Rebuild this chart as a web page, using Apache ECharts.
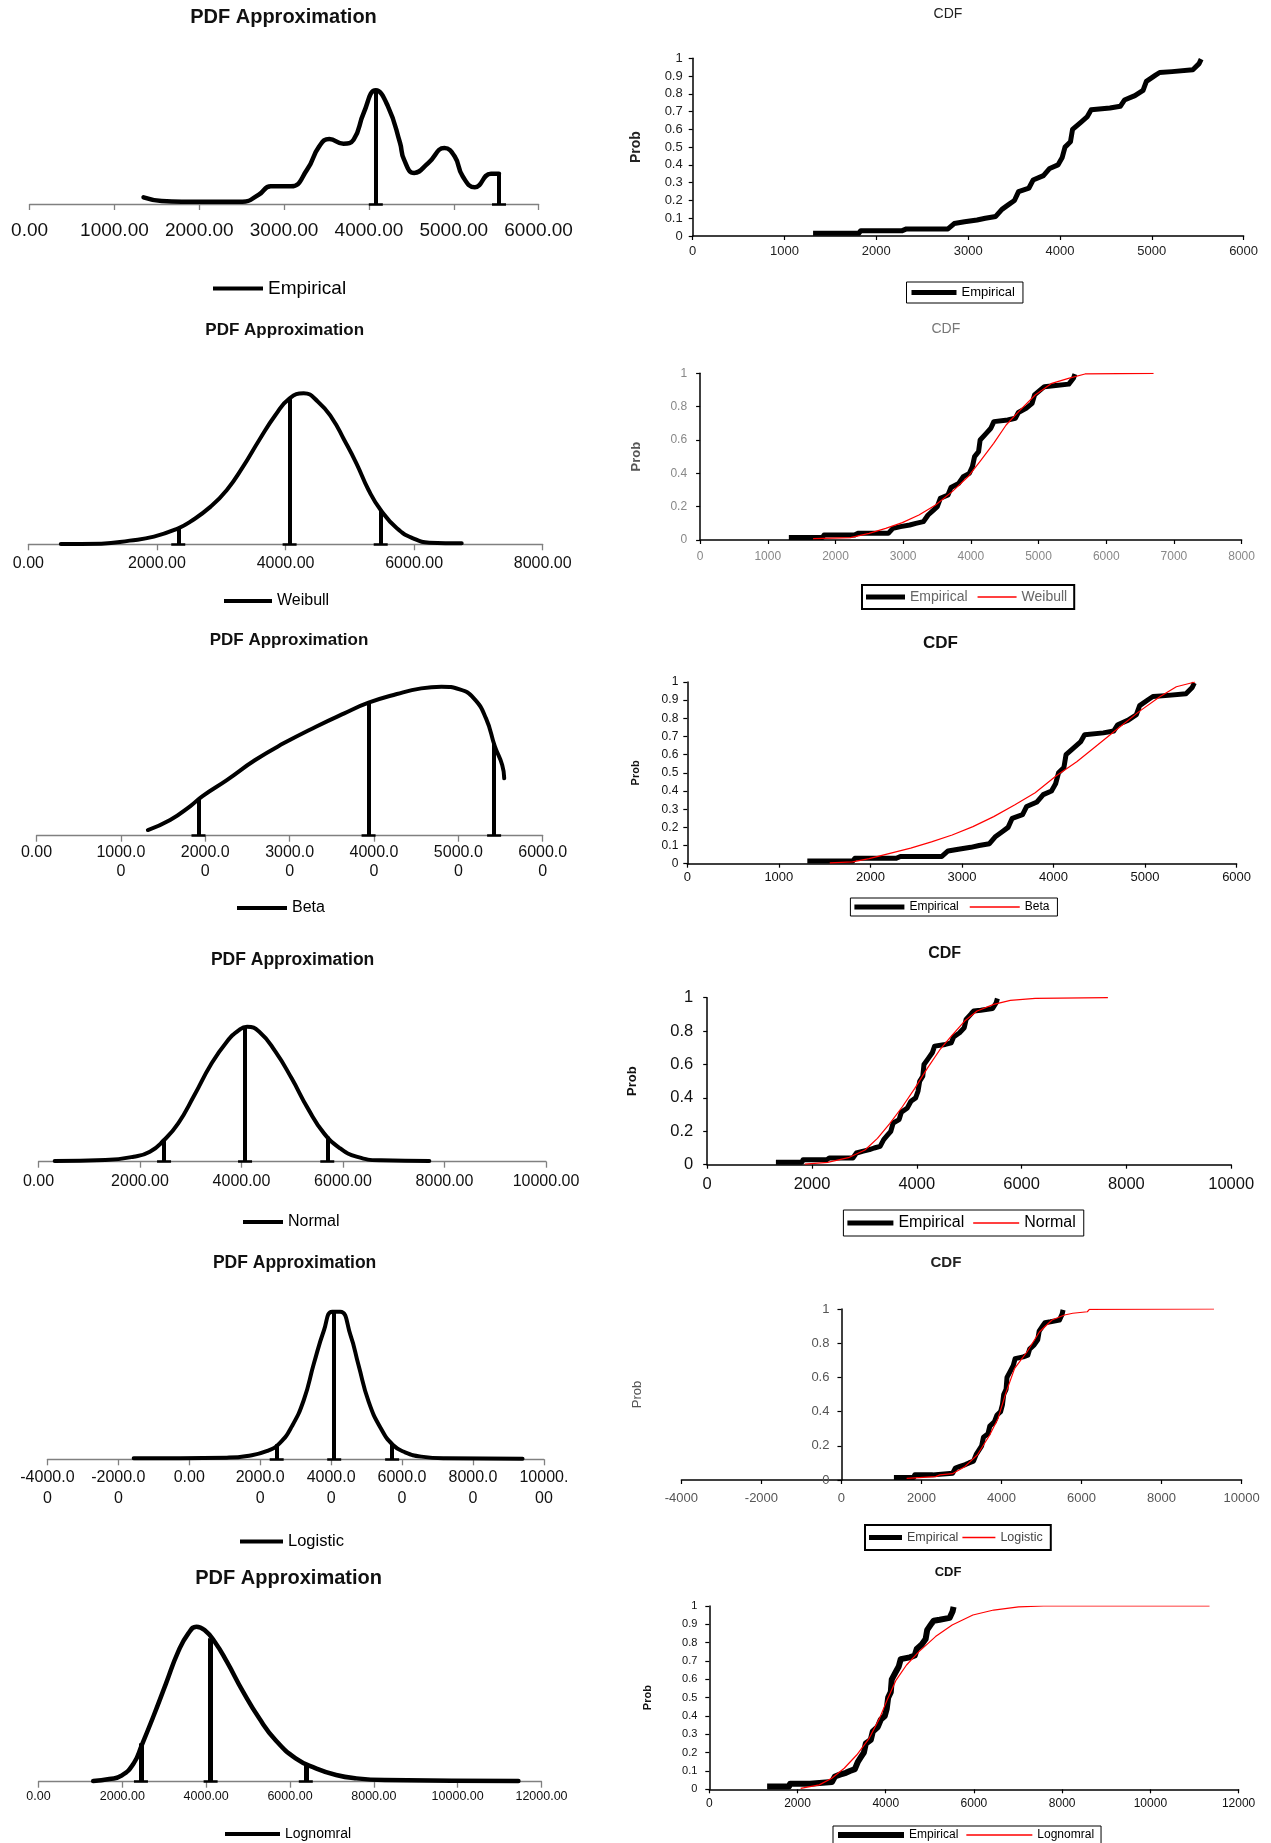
<!DOCTYPE html>
<html><head><meta charset="utf-8">
<script src="https://cdn.jsdelivr.net/npm/echarts@6/dist/echarts.min.js"></script>
<style>html,body{margin:0;padding:0;background:#fff}#c{width:1271px;height:1843px}</style>
</head><body><div id="c"></div>
<script>
const FONT = '"Liberation Sans", Arial, sans-serif';

// ---------- DATA (x value, relative density / probability) ----------
const empiricalPdf = [[1343,0.20],[1557,0.09],[1795,0.07],[2510,0.07],[2700,0.28],[2843,0.53],[3081,0.53],[3271,1.03],[3414,1.73],[3533,1.95],[3700,1.81],[3819,1.93],[3938,2.73],[4081,3.41],[4224,2.93],[4367,1.83],[4414,1.33],[4533,0.93],[4700,1.23],[4890,1.68],[5010,1.43],[5105,0.83],[5248,0.50],[5438,0.91],[5533,0.91]];
const empiricalPdfMarks = [[4081,3.41],[5533,0.91]];

const weibullPdf = [[504,0.01],[1134,0.02],[1575,0.11],[1953,0.23],[2331,0.48],[2520,0.68],[2835,1.13],[3087,1.63],[3339,2.33],[3591,3.13],[3843,3.88],[4063,4.38],[4283,4.53],[4504,4.28],[4724,3.78],[4913,3.13],[5102,2.43],[5291,1.63],[5480,1.03],[5732,0.48],[5984,0.18],[6236,0.05],[6740,0.03]];
const weibullPdfMarks = [[2331,0.50],[4063,4.38],[5480,1.03]];

const betaPdf = [[1320,0.17],[1584,0.47],[1824,0.89],[1968,1.19],[2256,1.67],[2592,2.27],[2928,2.77],[3312,3.27],[3648,3.67],[3936,3.99],[4272,4.25],[4560,4.42],[4800,4.47],[5016,4.39],[5184,4.12],[5328,3.52],[5434,2.67],[5520,2.12],[5544,1.72]];
const betaPdfMarks = [[1920,1.12],[3936,3.99],[5424,2.75]];

const normalPdf = [[319,0.02],[1317,0.05],[1875,0.15],[2195,0.30],[2474,0.65],[2753,1.15],[3073,2.00],[3392,2.90],[3711,3.60],[3950,3.95],[4110,4.05],[4350,3.90],[4669,3.30],[4988,2.50],[5307,1.60],[5626,0.85],[5946,0.40],[6265,0.15],[6744,0.04],[7701,0.02]];
const normalPdfMarks = [[2474,0.65],[4070,4.05],[5690,0.75]];

const logisticPdf = [[-1567,0.03],[1060,0.05],[1631,0.10],[2202,0.25],[2545,0.48],[2888,0.98],[3230,1.78],[3516,2.88],[3801,3.88],[4030,4.43],[4258,4.43],[4544,3.73],[4772,2.83],[5058,1.73],[5401,0.93],[5743,0.43],[6086,0.21],[6543,0.08],[7228,0.03],[9398,0.02]];
const logisticPdfMarks = [[2465,0.45],[4087,4.45],[5720,0.45]];

const lognormalPdf = [[1304,0.02],[1691,0.08],[1981,0.18],[2271,0.55],[2464,1.10],[2754,2.00],[3043,2.95],[3333,3.90],[3575,4.45],[3768,4.65],[3961,4.55],[4203,4.20],[4493,3.60],[4879,2.70],[5266,1.90],[5652,1.25],[6135,0.70],[6618,0.40],[7101,0.20],[7585,0.10],[8261,0.05],[11449,0.02]];
const lognormalPdfMarks = [[2444,1.15],[4106,4.30],[6377,0.55]];

const empiricalCdf = [[1311,0.015],[1808,0.015],[1831,0.03],[2283,0.03],[2328,0.04],[2780,0.04],[2848,0.07],[2961,0.08],[3097,0.09],[3187,0.10],[3300,0.11],[3368,0.15],[3436,0.175],[3504,0.20],[3549,0.25],[3662,0.27],[3707,0.315],[3820,0.34],[3888,0.38],[3978,0.40],[4023,0.44],[4055,0.50],[4114,0.53],[4137,0.60],[4227,0.64],[4295,0.67],[4340,0.71],[4544,0.72],[4657,0.73],[4702,0.765],[4816,0.79],[4905,0.82],[4941,0.87],[5041,0.905],[5086,0.92],[5221,0.925],[5447,0.935],[5515,0.97],[5538,0.995]];

const weibullCdf = [[1669,0.008],[2221,0.014],[2497,0.04],[2742,0.07],[2988,0.104],[3233,0.15],[3479,0.21],[3724,0.29],[3969,0.384],[4153,0.48],[4337,0.58],[4521,0.69],[4706,0.77],[4951,0.87],[5196,0.94],[5442,0.97],[5687,0.996],[6699,1.0]];
const betaCdf = [[1556,0.004],[1805,0.01],[1986,0.028],[2213,0.057],[2440,0.086],[2667,0.12],[2893,0.158],[3120,0.204],[3347,0.259],[3574,0.323],[3800,0.39],[4027,0.483],[4254,0.561],[4481,0.653],[4707,0.745],[4934,0.837],[5161,0.919],[5342,0.974],[5546,1.0]];
const normalCdf = [[1862,0.004],[2298,0.014],[2694,0.042],[3011,0.088],[3249,0.158],[3487,0.247],[3724,0.347],[3962,0.457],[4200,0.577],[4437,0.687],[4675,0.776],[4913,0.86],[5151,0.92],[5468,0.96],[5785,0.984],[6260,0.996],[7647,1.0]];
const logisticCdf = [[1629,0.01],[2356,0.02],[2460,0.03],[2771,0.037],[3082,0.078],[3394,0.146],[3705,0.263],[3913,0.36],[4120,0.517],[4328,0.653],[4639,0.75],[4951,0.867],[5262,0.936],[5574,0.965],[5781,0.975],[6144,0.984],[6196,0.998],[9310,1.0]];
const lognormalCdf = [[2071,0.005],[2494,0.024],[2776,0.06],[3059,0.115],[3341,0.187],[3624,0.278],[3859,0.387],[4047,0.496],[4235,0.596],[4471,0.678],[4753,0.751],[5129,0.833],[5506,0.896],[5976,0.951],[6447,0.978],[7012,0.995],[7576,1.0],[11341,1.0]];

const pdfTitle = 'PDF Approximation';
const cdfTitle = 'CDF';
const yName = 'Prob';

// ---------- LAYOUT ----------
const UNIT = 100 / 3; // px per density unit
const option = {backgroundColor:'#fff', animation:false, title:[], legend:[], grid:[], xAxis:[], yAxis:[], series:[]};
const nameOf = n => n.split('|')[0];
const barIcon = (w, h) => 'path://M0,0H' + w + 'V' + h + 'H0Z';

function pdfLabel(v, wrap) {
  const s = v.toFixed(2);
  if (!wrap) return s;
  const cut = s[0] === '-' ? 7 : 6;
  return s.length > cut ? s.slice(0, cut) + '\n' + s.slice(cut) : s;
}

function pdfPanel(c) {
  const i = option.grid.length;
  const h = c.yMax * UNIT;
  option.grid.push({left:c.left, top:c.axisY - h, width:c.width, height:h});
  option.xAxis.push({gridIndex:i, type:'value', min:c.xMin, max:c.xMax, interval:c.xInt,
    axisLine:{show:true, onZero:true, lineStyle:{color:'#808080', width:1.3}},
    axisTick:{show:true, length:6, lineStyle:{color:'#808080', width:1.3}},
    splitLine:{show:false},
    axisLabel:{show:true, fontSize:c.lab.fs, fontFamily:FONT, color:'#111', margin:c.lab.margin,
      lineHeight:c.lab.lh || c.lab.fs + 2, formatter: v => pdfLabel(v, c.wrap)}});
  option.yAxis.push({gridIndex:i, type:'value', min:0, max:c.yMax, show:false});
  const footHalf = 7 * (c.xMax - c.xMin) / c.width;
  const ml = c.marks.map(([x, y]) => [{coord:[x, 0]}, {coord:[x, y]}]);
  c.marks.forEach(([x]) => ml.push([{coord:[x - footHalf, 0], lineStyle:{width:2.5}}, {coord:[x + footHalf, 0]}]));
  const name = c.name + '|' + i;
  option.series.push({type:'line', name, xAxisIndex:i, yAxisIndex:i, data:c.data, symbol:'none',
    smooth:0.5, clip:false,
    lineStyle:{color:'#000', width:c.lw, cap:'round', join:'round'}, itemStyle:{color:'#000'},
    markLine:{silent:true, animation:false, symbol:['none','none'], label:{show:false},
      lineStyle:{color:'#000', width:c.mw, type:'solid'}, emphasis:{disabled:true}, data:ml}});
  option.title.push({text:pdfTitle, left:c.title.cx, top:c.title.cy - c.title.fs / 2, textAlign:'center', textVerticalAlign:'top', padding:0,
    textStyle:{fontFamily:FONT, fontWeight:'bold', fontSize:c.title.fs, color:'#111'}});
  option.legend.push({left:c.legend.left, top:c.legend.cy - 7, padding:0, itemWidth:c.legend.iw, itemHeight:14,
    symbolKeepAspect:true, selectedMode:false, itemStyle:{borderWidth:0}, formatter:nameOf,
    textStyle:{fontFamily:FONT, fontSize:c.legend.fs, color:'#000'},
    data:[{name, icon:barIcon(c.legend.iw, 4)}]});
}

function cdfPanel(c) {
  const i = option.grid.length;
  option.grid.push({left:c.left, top:c.top, width:c.width, height:c.height});
  option.xAxis.push({gridIndex:i, type:'value', min:c.xMin, max:c.xMax, interval:c.xInt,
    axisLine:{show:true, onZero:true, lineStyle:{color:'#000', width:1.5}},
    axisTick:{show:true, length:4, lineStyle:{color:'#000', width:1.2}},
    splitLine:{show:false},
    axisLabel:{show:true, fontSize:c.lab.fs, fontFamily:FONT, color:c.lab.color, margin:c.lab.xm, formatter: v => String(v)}});
  // y axis sits where x = 0 (shift whole axis incl. labels when x range starts below zero)
  const yShift = c.xMin < 0 ? -(0 - c.xMin) / (c.xMax - c.xMin) * c.width : 0;
  option.yAxis.push({gridIndex:i, type:'value', min:0, max:1, interval:c.yInt, offset:yShift,
    name:yName, nameLocation:'middle', nameRotate:90, nameGap:c.nameGap,
    nameTextStyle:{fontFamily:FONT, fontWeight:c.nameFw, fontSize:c.nameFs, color:c.nameColor},
    axisLine:{show:true, onZero:false, lineStyle:{color:'#000', width:1.5}},
    axisTick:{show:true, length:4, lineStyle:{color:'#000', width:1.2}},
    splitLine:{show:false},
    axisLabel:{show:true, fontSize:c.lab.yfs || c.lab.fs, fontFamily:FONT, color:c.lab.color, margin:c.lab.ym, formatter: v => String(Math.round(v * 10) / 10)}});
  const empName = 'Empirical|' + i;
  option.series.push({type:'line', name:empName, xAxisIndex:i, yAxisIndex:i, data:empiricalCdf, symbol:'none',
    lineStyle:{color:'#000', width:c.empW, cap:'butt', join:'round'}, itemStyle:{color:'#000'}});
  const legendData = [{name:empName, icon:barIcon(c.legend.iw, c.empW)}];
  if (c.fit) {
    const fitName = c.fitName + '|' + i;
    option.series.push({type:'line', name:fitName, xAxisIndex:i, yAxisIndex:i, data:c.fit, symbol:'none',
      lineStyle:{color:'#ff0000', width:1.2}, itemStyle:{color:'#ff0000'}});
    legendData.push({name:fitName, icon:barIcon(c.legend.iw2 || c.legend.iw, 1.5)});
  }
  option.title.push({text:cdfTitle, left:c.title.cx, top:c.title.cy - c.title.fs / 2, textAlign:'center', textVerticalAlign:'top', padding:0,
    textStyle:{fontFamily:FONT, fontWeight:c.title.fw, fontSize:c.title.fs, color:c.title.color}});
  option.legend.push({left:c.legend.left, top:c.legend.top, padding:c.legend.pad, itemWidth:c.legend.iw, itemHeight:c.legend.ih,
    itemGap:c.legend.gap, borderColor:'#000', borderWidth:c.legend.bw || 1, borderRadius:0,
    symbolKeepAspect:true, selectedMode:false, itemStyle:{borderWidth:0}, formatter:nameOf,
    textStyle:{fontFamily:FONT, fontSize:c.legend.fs, color:c.legend.color || '#000'},
    data:legendData});
}

// Row 1
pdfPanel({name:'Empirical', data:empiricalPdf, marks:empiricalPdfMarks, left:29.6, width:509, axisY:204, xMin:0, xMax:6000, xInt:1000, yMax:4, lw:4.5, mw:4,
  title:{cx:283.5, cy:17, fs:20}, lab:{fs:19, margin:16}, legend:{left:213, cy:286, iw:50, fs:19}});
cdfPanel({fit:null, left:692.7, top:58.3, width:550.9, height:177.7, xMin:0, xMax:6000, xInt:1000, yInt:0.1, empW:5,
  title:{cx:948, cy:14, fs:14, fw:'normal', color:'#222'}, lab:{fs:13, color:'#222', xm:9, ym:10},
  nameGap:50, nameFs:14, nameFw:'bold', nameColor:'#222',
  legend:{left:906.5, top:282, pad:[4,8,4,5], iw:45, ih:14, gap:8, fs:13}});
// Row 2
pdfPanel({name:'Weibull', data:weibullPdf, marks:weibullPdfMarks, left:28.4, width:514.3, axisY:544.3, xMin:0, xMax:8000, xInt:2000, yMax:5, lw:4, mw:4,
  title:{cx:284.7, cy:330, fs:17}, lab:{fs:16, margin:10}, legend:{left:224, cy:600, iw:48, fs:16}});
cdfPanel({fit:weibullCdf, fitName:'Weibull', left:700.1, top:373.3, width:541.5, height:166.7, xMin:0, xMax:8000, xInt:1000, yInt:0.2, empW:5,
  title:{cx:945.9, cy:329, fs:14, fw:'normal', color:'#777'}, lab:{fs:12, color:'#888', xm:11, ym:13},
  nameGap:57, nameFs:13, nameFw:'bold', nameColor:'#555',
  legend:{left:862, top:585, pad:[5,7,5,4], iw:39, iw2:39, ih:15, gap:10, fs:14, bw:2, color:'#666'}});
// Row 3
pdfPanel({name:'Beta', data:betaPdf, marks:betaPdfMarks, left:36.5, width:506.2, axisY:835.7, xMin:0, xMax:6000, xInt:1000, yMax:5, lw:4, mw:4, wrap:true,
  title:{cx:289, cy:640, fs:17}, lab:{fs:16, margin:7, lh:19}, legend:{left:237, cy:907, iw:50, fs:16}});
cdfPanel({fit:betaCdf, fitName:'Beta', left:687.3, top:682, width:549.3, height:181.7, xMin:0, xMax:6000, xInt:1000, yInt:0.1, empW:5,
  title:{cx:940.5, cy:643, fs:17, fw:'bold', color:'#111'}, lab:{fs:13, yfs:12, color:'#111', xm:7, ym:9},
  nameGap:46, nameFs:11, nameFw:'bold', nameColor:'#111',
  legend:{left:850.4, top:898, pad:[3,8,3,4], iw:50, iw2:46, ih:12, gap:11, fs:12}});
// Row 4
pdfPanel({name:'Normal', data:normalPdf, marks:normalPdfMarks, left:38.5, width:507.5, axisY:1161.7, xMin:0, xMax:10000, xInt:2000, yMax:5, lw:4, mw:4,
  title:{cx:292.6, cy:960, fs:17.5}, lab:{fs:16, margin:11}, legend:{left:243, cy:1221, iw:40, fs:16}});
cdfPanel({fit:normalCdf, fitName:'Normal', left:707.2, top:997.7, width:524, height:167, xMin:0, xMax:10000, xInt:2000, yInt:0.2, empW:5,
  title:{cx:944.7, cy:954, fs:16, fw:'bold', color:'#111'}, lab:{fs:16.5, color:'#111', xm:11, ym:14},
  nameGap:68, nameFs:13, nameFw:'bold', nameColor:'#111',
  legend:{left:843.4, top:1210, pad:[5,8,5,4], iw:46, iw2:42, ih:14, gap:9, fs:16}});
// Row 5
pdfPanel({name:'Logistic', data:logisticPdf, marks:logisticPdfMarks, left:47.4, width:496.5, axisY:1459.3, xMin:-4000, xMax:10000, xInt:2000, yMax:5, lw:4, mw:4, wrap:true,
  title:{cx:294.6, cy:1263, fs:17.5}, lab:{fs:16, margin:8, lh:21}, legend:{left:240, cy:1540, iw:43, fs:16.5}});
cdfPanel({fit:logisticCdf, fitName:'Logistic', left:681.4, top:1309, width:560.2, height:171, xMin:-4000, xMax:10000, xInt:2000, yInt:0.2, empW:5,
  title:{cx:945.9, cy:1263, fs:15, fw:'bold', color:'#222'}, lab:{fs:13, color:'#555', xm:12, ym:12},
  nameGap:198, nameFs:13, nameFw:'normal', nameColor:'#555',
  legend:{left:865, top:1525, pad:[6,8,6,4], iw:33, iw2:32, ih:13, gap:4, fs:12.5, bw:2, color:'#444'}});
// Row 6
pdfPanel({name:'Lognomral', data:lognormalPdf, marks:lognormalPdfMarks, left:38.5, width:503, axisY:1781.7, xMin:0, xMax:12000, xInt:2000, yMax:5, lw:4.5, mw:5,
  title:{cx:288.6, cy:1578, fs:20}, lab:{fs:12.5, margin:8}, legend:{left:225, cy:1834, iw:55, fs:14}});
cdfPanel({fit:lognormalCdf, fitName:'Lognomral', left:709.3, top:1606, width:529.3, height:183.3, xMin:0, xMax:12000, xInt:2000, yInt:0.1, empW:6,
  title:{cx:948, cy:1572, fs:13, fw:'bold', color:'#111'}, lab:{fs:12, yfs:11, color:'#111', xm:8, ym:12},
  nameGap:56, nameFs:11, nameFw:'bold', nameColor:'#111',
  legend:{left:833, top:1826, pad:[3,7,3,5], iw:66, iw2:60, ih:12, gap:8, fs:12}});

const chart = echarts.init(document.getElementById('c'), null, {renderer:'canvas', width:1271, height:1843});
chart.setOption(option);
</script>
</body></html>
